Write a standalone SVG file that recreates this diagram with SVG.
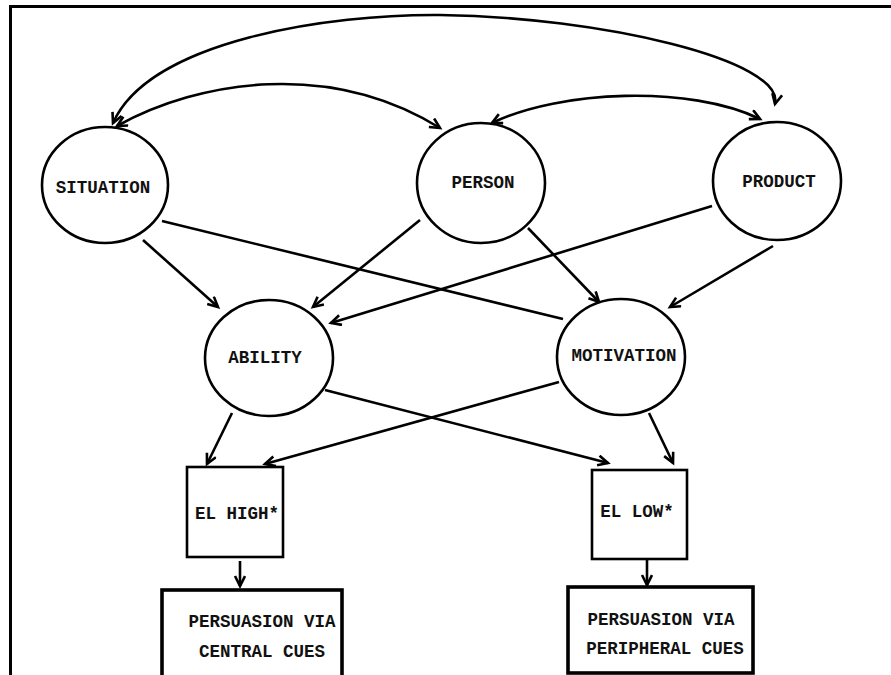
<svg xmlns="http://www.w3.org/2000/svg" width="891" height="675" viewBox="0 0 891 675">
<defs>
<marker id="ah" markerWidth="14" markerHeight="14" refX="11" refY="6" orient="auto" markerUnits="userSpaceOnUse">
<path d="M1,1 L11,6 L1,11" fill="none" stroke="#000" stroke-width="2.6" stroke-linejoin="miter"/>
</marker>
<marker id="ahs" markerWidth="14" markerHeight="14" refX="11" refY="6" orient="auto-start-reverse" markerUnits="userSpaceOnUse">
<path d="M1,1 L11,6 L1,11" fill="none" stroke="#000" stroke-width="2.6" stroke-linejoin="miter"/>
</marker>
</defs>
<style>
.c{fill:#fff;stroke:#000;stroke-width:2.6}
.b{fill:#fff;stroke:#000;stroke-width:2.6}
.bb{fill:#fff;stroke:#000;stroke-width:3.6}
.t{font-family:"Liberation Mono","DejaVu Sans Mono",monospace;font-weight:bold;font-size:17.5px;text-anchor:middle;fill:#111}
.l{fill:none;stroke:#000;stroke-width:2.6}
.a{marker-end:url(#ah)}
.d{marker-start:url(#ahs);marker-end:url(#ahs)}
</style>
<rect x="0" y="0" width="891" height="675" fill="#fff"/>
<g id="frame">
<path d="M10,6.5 H891 M10.5,5 V675" fill="none" stroke="#000" stroke-width="3"/>
</g>
<g id="connectors">
<path class="l d" d="M113,123 C150,40 330,14 440,15 C600,17 785,60 775,104"/>
<path class="l d" d="M117,126 C200,80 330,60 440,128"/>
<path class="l d" d="M492,123 C560,90 690,85 760,119"/>
<line class="l a" x1="143" y1="240" x2="218" y2="307"/>
<line class="l" x1="162" y1="221" x2="563" y2="319"/>
<line class="l a" x1="420" y1="220" x2="313" y2="307"/>
<line class="l a" x1="528" y1="228" x2="599" y2="302"/>
<line class="l a" x1="712" y1="206" x2="331" y2="323"/>
<line class="l a" x1="773" y1="246" x2="670" y2="307"/>
<line class="l a" x1="325" y1="390" x2="608" y2="463"/>
<line class="l a" x1="559" y1="382" x2="265" y2="464"/>
<line class="l a" x1="232" y1="413" x2="207" y2="464"/>
<line class="l a" x1="649" y1="413" x2="673" y2="463"/>
<line class="l a" x1="240" y1="561" x2="240" y2="586"/>
<line class="l a" x1="647" y1="560" x2="647" y2="585"/>
</g>
<g id="situation">
<ellipse class="c" cx="105" cy="185" rx="63" ry="58"/>
<text class="t" x="103" y="193">SITUATION</text>
</g>
<g id="person">
<ellipse class="c" cx="481" cy="183" rx="64" ry="60"/>
<text class="t" x="483" y="188">PERSON</text>
</g>
<g id="product">
<ellipse class="c" cx="777" cy="181" rx="64" ry="59"/>
<text class="t" x="779" y="187">PRODUCT</text>
</g>
<g id="ability">
<ellipse class="c" cx="269" cy="358" rx="64" ry="58"/>
<text class="t" x="265" y="363">ABILITY</text>
</g>
<g id="motivation">
<ellipse class="c" cx="621" cy="357" rx="64" ry="58"/>
<text class="t" x="624" y="361">MOTIVATION</text>
</g>
<g id="el-high">
<rect class="b" x="187" y="467" width="96" height="90"/>
<text class="t" x="237" y="519">EL HIGH*</text>
</g>
<g id="el-low">
<rect class="b" x="592" y="470" width="95" height="89"/>
<text class="t" x="637" y="517">EL LOW*</text>
</g>
<g id="central">
<rect class="bb" x="162" y="590" width="180" height="90"/>
<text class="t" x="262" y="627">PERSUASION VIA</text>
<text class="t" x="262" y="657">CENTRAL CUES</text>
</g>
<g id="peripheral">
<rect class="bb" x="568" y="587" width="185" height="86"/>
<text class="t" x="661" y="625">PERSUASION VIA</text>
<text class="t" x="665" y="654">PERIPHERAL CUES</text>
</g>
</svg>
